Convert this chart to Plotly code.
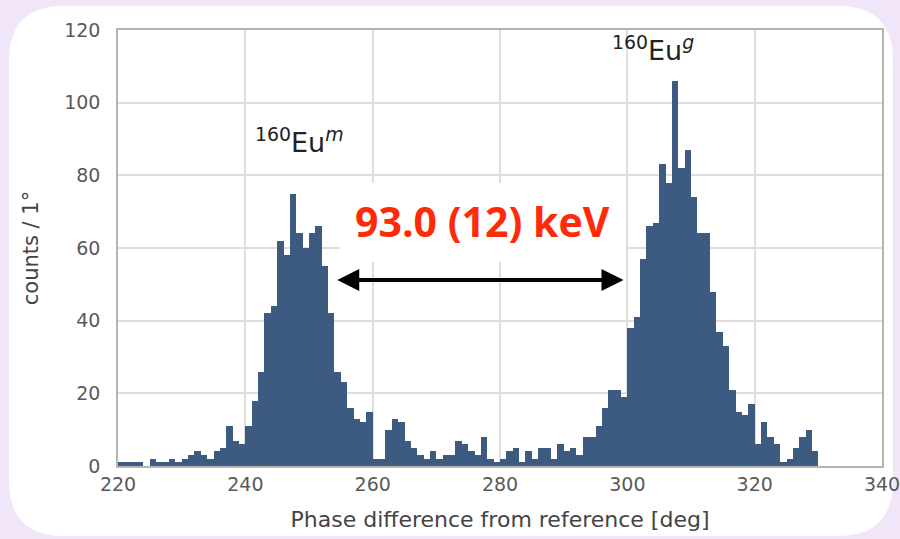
import plotly.graph_objects as go

# ---- data (1-degree bins, left edges 220..339) ----
bin_left = list(range(220, 340))
counts = [
    1, 1, 1, 1, 0, 2, 1, 1, 2, 1,
    2, 3, 4, 3, 2, 4, 5, 11, 7, 6,
    11, 18, 26, 42, 44, 62, 58, 75, 64, 60,
    64, 66, 55, 42, 26, 23, 16, 13, 12, 15,
    2, 2, 10, 13, 12, 7, 5, 3, 2, 4,
    2, 3, 3, 7, 6, 4, 3, 8, 2, 1,
    2, 4, 5, 1, 4, 2, 5, 5, 2, 6,
    4, 5, 3, 8, 8, 11, 16, 21, 21, 19,
    38, 41, 57, 66, 67, 83, 78, 106, 82, 87,
    74, 64, 64, 48, 37, 33, 21, 15, 14, 17,
    6, 12, 8, 6, 1, 2, 5, 8, 10, 4,
    0, 0, 0, 0, 0, 0, 0, 0, 0, 0,
]
x_ticks = [220, 240, 260, 280, 300, 320, 340]
y_ticks = [0, 20, 40, 60, 80, 100, 120]
label_m = "<sup>160</sup>Eu<sup><i>m</i></sup>"
label_g = "<sup>160</sup>Eu<sup><i>g</i></sup>"
energy_text = "<b>93.0 (12) keV</b>"

W, H = 900, 539
ML, MR, MT, MB = 118, 18, 30, 73
PW, PH = W - ML - MR, H - MT - MB

def px(x):
    return (x - ML) / PW

def py(y):
    return (H - MB - y) / PH

centers = [b + 0.5 for b in bin_left]

fig = go.Figure()
fig.add_trace(go.Bar(
    x=centers, y=counts, width=[1.0] * len(centers),
    marker=dict(color="#3d5a80", line=dict(width=0)),
    hoverinfo="skip",
))

# rounded white card on lavender page
x0, x1, y0, y1, r = 9, 893, 6, 536, 55
path = (
    f"M {px(x0 + r)} {py(y0)} L {px(x1 - r)} {py(y0)} "
    f"Q {px(x1)} {py(y0)} {px(x1)} {py(y0 + r)} "
    f"L {px(x1)} {py(y1 - r)} Q {px(x1)} {py(y1)} {px(x1 - r)} {py(y1)} "
    f"L {px(x0 + r)} {py(y1)} Q {px(x0)} {py(y1)} {px(x0)} {py(y1 - r)} "
    f"L {px(x0)} {py(y0 + r)} Q {px(x0)} {py(y0)} {px(x0 + r)} {py(y0)} Z"
)
fig.add_shape(type="path", path=path, xref="paper", yref="paper",
              fillcolor="#ffffff", line=dict(width=0), layer="below")

# white box behind the energy label
fig.add_shape(type="rect", xref="x", yref="y", x0=254.8, x1=299.8, y0=56.2, y1=77.9,
              fillcolor="#ffffff", line=dict(width=0), layer="above")

fig.add_annotation(x=277.3, y=67.4, xref="x", yref="y", text=energy_text, showarrow=False,
                   font=dict(family="Open Sans, DejaVu Sans, sans-serif", size=41, color="#ff2a0a"))
# double arrow
fig.add_annotation(x=299.4, y=51.2, ax=254.2, ay=51.2, xref="x", yref="y", axref="x", ayref="y",
                   text="", showarrow=True, arrowhead=2, arrowside="end+start",
                   arrowsize=1.1, arrowwidth=4, arrowcolor="#000000")
fig.add_annotation(x=248.5, y=89.5, xref="x", yref="y", text=label_m, showarrow=False,
                   font=dict(family="DejaVu Sans, sans-serif", size=27, color="#222222"))
fig.add_annotation(x=304.0, y=115.0, xref="x", yref="y", text=label_g, showarrow=False,
                   font=dict(family="DejaVu Sans, sans-serif", size=27, color="#222222"))

tick_font = dict(family="DejaVu Sans, sans-serif", size=19, color="#5a5a5a")
fig.update_layout(
    width=W, height=H,
    margin=dict(l=ML, r=MR, t=MT, b=MB, autoexpand=False),
    paper_bgcolor="#f1e6f9",
    plot_bgcolor="#fcfcf7",
    bargap=0,
    showlegend=False,
    xaxis=dict(range=[220, 340], tickvals=x_ticks, ticktext=[str(v) for v in x_ticks],
               showgrid=True, gridcolor="#dedede", gridwidth=1.5, zeroline=False,
               showline=True, linecolor="#b5b5b5", linewidth=1.5, mirror=True,
               ticks="", tickfont=tick_font, ticklabeloverflow="allow",
               title=dict(text="Phase difference from reference [deg]", standoff=18,
                          font=dict(family="DejaVu Sans, sans-serif", size=22, color="#444444"))),
    yaxis=dict(range=[0, 120], tickvals=y_ticks, ticktext=[str(v) for v in y_ticks],
               showgrid=True, gridcolor="#dedede", gridwidth=1.5, zeroline=False,
               showline=True, linecolor="#b5b5b5", linewidth=1.5, mirror=True,
               ticks="", tickfont=tick_font, ticklabelstandoff=12, ticklabeloverflow="allow",
               title=dict(text="counts / 1°", standoff=20,
                          font=dict(family="DejaVu Sans, sans-serif", size=21, color="#444444"))),
)

fig.write_html(
    "out.html",
    config={"displayModeBar": False},
    post_script="document.body.style.margin='0';document.body.style.background='#f1e6f9';",
)
